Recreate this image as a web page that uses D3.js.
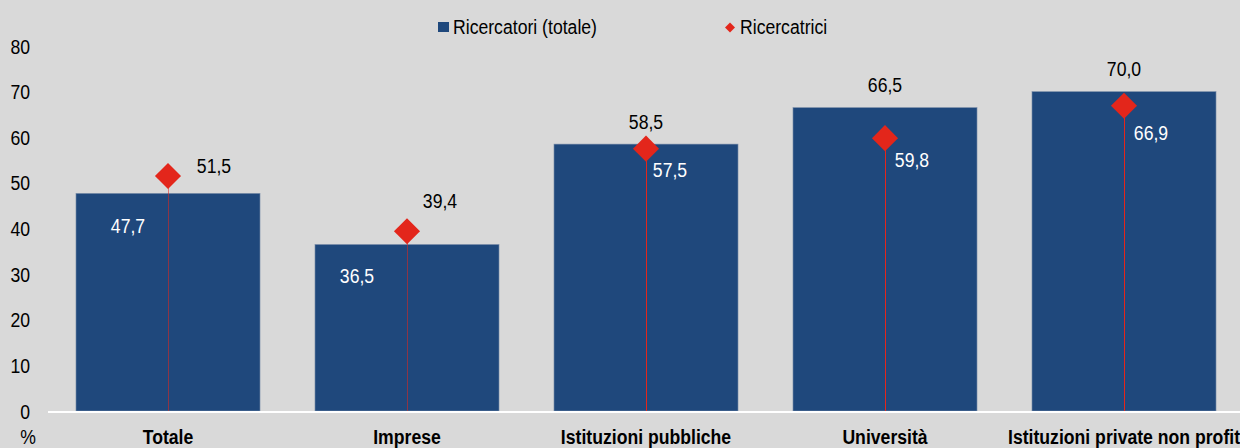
<!DOCTYPE html>
<html>
<head>
<meta charset="utf-8">
<script src="https://cdn.jsdelivr.net/npm/d3@7/dist/d3.min.js"></script>
<style>
  html, body { margin: 0; padding: 0; background: #d9d9d9; }
  svg { display: block; }
  text { font-family: "Liberation Sans", Arial, sans-serif; font-size: 21px; }
</style>
</head>
<body>
<div id="chart"></div>
<script>
// Data
const categories = ["Totale", "Imprese", "Istituzioni pubbliche", "Università", "Istituzioni private non profit"];
const totale = [47.7, 36.5, 58.5, 66.5, 70.0];
const ricercatrici = [51.5, 39.4, 57.5, 59.8, 66.9];
const yTicks = [0, 10, 20, 30, 40, 50, 60, 70, 80];
const seriesNames = ["Ricercatori (totale)", "Ricercatrici"];

// label nudges (px), as placed in the original
const barLabelNudge = [[-40, 32], [-50, 31], [0, -23], [0, -23], [0, -23]];
const dotLabelNudge = [[46, -11], [33, -31], [24, 21], [27, 21], [27, 27]];

const W = 1240, H = 448;
const barColor = "#1f487c", red = "#e3261b";
const narrow = 0.84; // original font is a narrow sans
const fmt = v => v.toFixed(1).replace(".", ",");

// put a text at (px, py), squeezed horizontally
function place(sel, px, py) {
  sel.attr("transform", function (d, i) {
    const a = typeof px === "function" ? px(d, i) : px;
    const b = typeof py === "function" ? py(d, i) : py;
    return "translate(" + a + "," + b + ") scale(" + narrow + ",1)";
  });
  return sel;
}

const svg = d3.select("#chart").append("svg")
  .attr("width", W).attr("height", H);

const x = d3.scaleBand()
  .domain(categories)
  .range([48.5, 1243.5])
  .paddingInner(0.23)
  .paddingOuter(0.115);

const y = d3.scaleLinear()
  .domain([0, 80])
  .range([411, 46]);

const cx = d => x(d) + x.bandwidth() / 2;
const data = categories.map((c, i) => ({cat: c, tot: totale[i], donne: ricercatrici[i], i: i}));

// Y axis labels
place(svg.append("g").selectAll("text")
  .data(yTicks).enter().append("text")
  .attr("dy", "0.36em")
  .attr("text-anchor", "end")
  .attr("fill", "#000")
  .text(d => d), 30, d => y(d));

place(svg.append("text")
  .attr("text-anchor", "middle")
  .text("%"), 28, 444);

// Bars
svg.append("g").selectAll("rect")
  .data(data).enter().append("rect")
  .attr("x", d => x(d.cat))
  .attr("y", d => y(d.tot))
  .attr("width", x.bandwidth())
  .attr("height", d => y(0) - y(d.tot))
  .attr("fill", barColor)
  .attr("stroke", "#7d90ab")
  .attr("stroke-width", 0.6);

// Baseline
svg.append("line")
  .attr("x1", 48).attr("x2", 1240)
  .attr("y1", y(0) + 1).attr("y2", y(0) + 1)
  .attr("stroke", "#fff").attr("stroke-width", 2);

// Drop lines for Ricercatrici
svg.append("g").selectAll("line")
  .data(data).enter().append("line")
  .attr("x1", d => Math.round(cx(d.cat)) + 0.5)
  .attr("x2", d => Math.round(cx(d.cat)) + 0.5)
  .attr("y1", d => y(d.donne))
  .attr("y2", y(0))
  .attr("stroke", red)
  .attr("stroke-width", 1)
  .attr("stroke-opacity", d => d.donne > d.tot ? 0.55 : 1);

// Diamonds
const diamond = d3.symbol().type(d3.symbolSquare).size(340);
svg.append("g").selectAll("path")
  .data(data).enter().append("path")
  .attr("d", diamond)
  .attr("transform", d => "translate(" + cx(d.cat) + "," + y(d.donne) + ") rotate(45)")
  .attr("fill", red);

// Bar value labels
place(svg.append("g").selectAll("text")
  .data(data).enter().append("text")
  .attr("dy", "0.36em")
  .attr("text-anchor", "middle")
  .attr("fill", d => d.donne > d.tot ? "#fff" : "#000")
  .text(d => fmt(d.tot)),
  d => cx(d.cat) + barLabelNudge[d.i][0],
  d => y(d.tot) + barLabelNudge[d.i][1]);

// Diamond value labels
place(svg.append("g").selectAll("text")
  .data(data).enter().append("text")
  .attr("dy", "0.36em")
  .attr("text-anchor", "middle")
  .attr("fill", d => d.donne > d.tot ? "#000" : "#fff")
  .text(d => fmt(d.donne)),
  d => cx(d.cat) + dotLabelNudge[d.i][0],
  d => y(d.donne) + dotLabelNudge[d.i][1]);

// Category labels
place(svg.append("g").selectAll("text")
  .data(categories).enter().append("text")
  .attr("text-anchor", "middle")
  .style("font-weight", "bold")
  .text(d => d), d => cx(d), 444);

// Legend
const leg = svg.append("g");
leg.append("rect")
  .attr("x", 438).attr("y", 22).attr("width", 11).attr("height", 10)
  .attr("fill", barColor);
place(leg.append("text").text(seriesNames[0]), 453, 34);
leg.append("path")
  .attr("d", d3.symbol().type(d3.symbolSquare).size(50))
  .attr("transform", "translate(730,27.5) rotate(45)")
  .attr("fill", red);
place(leg.append("text").text(seriesNames[1]), 740, 34);
</script>
</body>
</html>
